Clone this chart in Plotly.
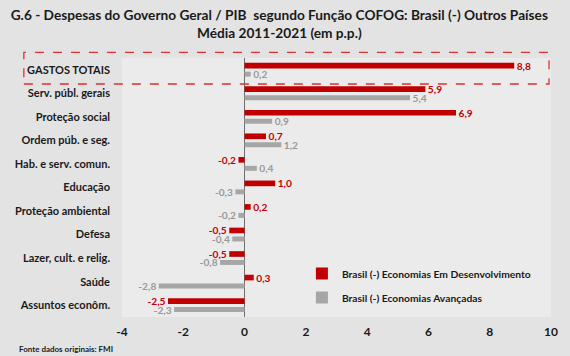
import plotly.graph_objects as go

categories = ["GASTOS TOTAIS", "Serv. públ. gerais", "Proteção social", "Ordem púb. e seg.",
              "Hab. e serv. comun.", "Educação", "Proteção ambiental", "Defesa",
              "Lazer, cult. e relig.", "Saúde", "Assuntos econôm."]
dev_values = [8.8, 5.9, 6.9, 0.7, -0.2, 1.0, 0.2, -0.5, -0.5, 0.3, -2.5]
adv_values = [0.2, 5.4, 0.9, 1.2, 0.4, -0.3, -0.2, -0.4, -0.8, -2.8, -2.3]
x_ticks = [-4, -2, 0, 2, 4, 6, 8, 10]

RED = "#c00000"
GRAY = "#a6a6a6"
FONT = "Lato"
NB = "\u00a0"

def fmt(v):
    s = f"{v:.1f}".replace(".", ",")
    return NB + s if v >= 0 else s + NB

fig = go.Figure()
fig.add_trace(go.Bar(
    y=categories, x=dev_values, orientation="h",
    name="Brasil (-) Economias Em Desenvolvimento",
    marker=dict(color=RED, line=dict(width=0)),
    width=0.24, offset=-0.295,
    text=[fmt(v) for v in dev_values], textposition="outside",
    textfont=dict(family=FONT, size=10.2, color=RED, weight="bold"),
    constraintext="none", cliponaxis=False, legendgroup="a",
))
fig.add_trace(go.Bar(
    y=categories, x=adv_values, orientation="h",
    name="Brasil (-) Economias Avançadas",
    marker=dict(color=GRAY, line=dict(width=0)),
    width=0.21, offset=0.08,
    text=[fmt(v) for v in adv_values], textposition="outside",
    textfont=dict(family=FONT, size=10.2, color="#999999", weight="bold"),
    constraintext="none", cliponaxis=False, legendgroup="b",
))

fig.update_layout(
    width=570, height=356,
    margin=dict(l=122, r=14, t=58, b=39),
    paper_bgcolor="#e3e3e3", plot_bgcolor="#ebebeb",
    barmode="overlay",
    font=dict(family=FONT, color="#1a1a1a"),
    title=dict(
        text="G.6 - Despesas do Governo Geral / PIB  segundo Função COFOG: Brasil (-) Outros Países<br>Média 2011-2021 (em p.p.)",
        x=0.49, xanchor="center", xref="container",
        y=1 - 20 / 356, yanchor="top", yref="container",
        font=dict(family=FONT, size=13.7, color="#1a1a1a", weight="bold"),
    ),
    xaxis=dict(
        range=[-4, 10], tickvals=x_ticks, ticktext=[str(t) for t in x_ticks],
        showgrid=False, zeroline=True, zerolinecolor="#6e6e6e", zerolinewidth=1,
        tickfont=dict(family=FONT, size=12, color="#1a1a1a", weight="bold"),
        ticklabelstandoff=6, showline=False,
    ),
    yaxis=dict(
        autorange="reversed", showgrid=False, zeroline=False,
        tickfont=dict(family=FONT, size=11, color="#1a1a1a", weight="bold"),
        ticklabelstandoff=11,
    ),
    legend=dict(
        x=(304 - 122) / 434, xanchor="left", y=(317 - 259) / 259, yanchor="top",
        bgcolor="rgba(0,0,0,0)", itemwidth=30, tracegroupgap=5,
        font=dict(family=FONT, size=10.3, color="#1a1a1a", weight="bold"),
    ),
    showlegend=True,
    shapes=[dict(
        type="rect", xref="paper", yref="paper",
        x0=(22.7 - 122) / 434, x1=(554 - 122) / 434,
        y0=(317 - 84) / 259, y1=(317 - 52.3) / 259,
        line=dict(color="#e03030", width=1.3, dash="dash"),
        fillcolor="rgba(0,0,0,0)", layer="above",
    )],
    annotations=[dict(
        text="Fonte dados originais: FMI", xref="paper", yref="paper",
        x=(15.7 - 122) / 434, y=(317 - 349) / 259, xanchor="left", yanchor="middle",
        showarrow=False, font=dict(family=FONT, size=8, color="#1a1a1a", weight="bold"),
    )],
)

fig.write_html("out.html", config={"displayModeBar": False},
               post_script="document.body.style.margin='0';document.body.style.overflow='hidden';")
